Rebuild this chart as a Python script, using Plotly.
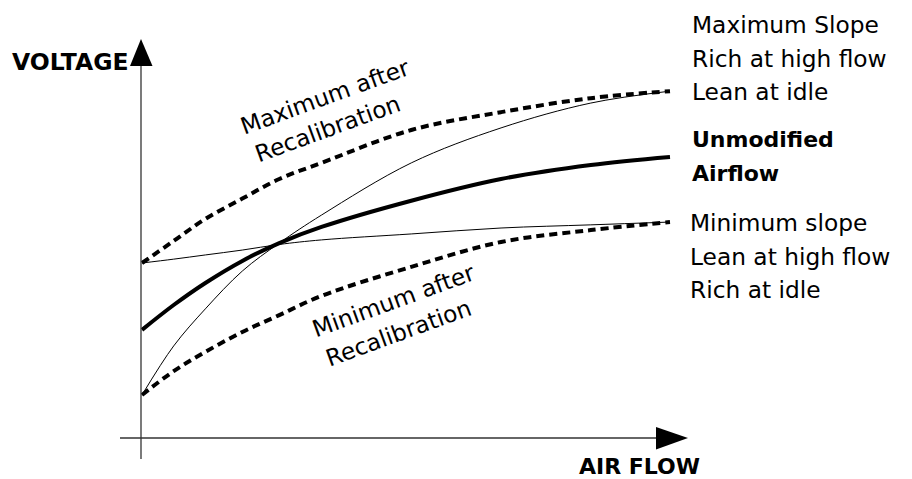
import plotly.graph_objects as go

# ---- data (arbitrary units) ----
airflow = [0, 0.6, 1.2, 1.9, 2.6, 3.4, 5.1, 6.8, 8.5, 10]
max_recal = [5.0, 5.63, 6.26, 6.84, 7.4, 7.86, 8.8, 9.31, 9.71, 9.91]
min_recal = [1.23, 1.91, 2.46, 3.03, 3.51, 4.06, 4.89, 5.6, 5.94, 6.17]
unmodified = [3.09, 3.8, 4.43, 5.06, 5.57, 6.03, 6.78, 7.4, 7.8, 8.03]
max_slope = [1.23, 2.63, 3.69, 4.77, 5.57, 6.37, 7.86, 8.86, 9.57, 9.91]
min_slope = [5.0, 5.11, 5.23, 5.37, 5.53, 5.66, 5.83, 6.0, 6.09, 6.17]

right_labels_top = ["Maximum Slope", "Rich at high flow", "Lean at idle"]
right_labels_mid = ["Unmodified", "Airflow"]
right_labels_low = ["Minimum slope", "Lean at high flow", "Rich at idle"]

W, H = 912, 479
SX, SY = 52.8, 35.0
OX, OY = 142, 438


def X(px):
    return (px - OX) / SX


def Y(py):
    return (OY - py) / SY


FONT = "DejaVu Sans"
REG = 23.3
BOLD = 22

fig = go.Figure()

dash = "8px,5px"
fig.add_trace(go.Scatter(x=airflow, y=max_recal, mode="lines",
                         line=dict(color="black", width=4, dash=dash, shape="spline")))
fig.add_trace(go.Scatter(x=airflow, y=min_recal, mode="lines",
                         line=dict(color="black", width=4, dash=dash, shape="spline")))
fig.add_trace(go.Scatter(x=airflow, y=unmodified, mode="lines",
                         line=dict(color="black", width=4, shape="spline")))
fig.add_trace(go.Scatter(x=airflow, y=max_slope, mode="lines",
                         line=dict(color="black", width=1, shape="spline")))
fig.add_trace(go.Scatter(x=airflow, y=min_slope, mode="lines",
                         line=dict(color="black", width=1, shape="spline")))

shapes = [
    dict(type="line", x0=X(141), y0=Y(459), x1=X(141), y1=Y(62),
         line=dict(color="#333", width=1.3)),
    dict(type="path", path=f"M {X(141)},{Y(39)} L {X(130)},{Y(66)} L {X(152.5)},{Y(66)} Z",
         fillcolor="black", line=dict(color="black", width=0)),
    dict(type="line", x0=X(120), y0=Y(438), x1=X(660), y1=Y(438),
         line=dict(color="#333", width=1.3)),
    dict(type="path", path=f"M {X(688)},{Y(438)} L {X(656)},{Y(427)} L {X(656)},{Y(449.5)} Z",
         fillcolor="black", line=dict(color="black", width=0)),
]

ann = []


def txt(text, px, py, size, bold=False, xanchor="left", angle=0):
    t = f"<b>{text}</b>" if bold else text
    ann.append(dict(text=t, x=X(px), y=Y(py), xref="x", yref="y", showarrow=False,
                    xanchor=xanchor, yanchor="middle", textangle=angle,
                    font=dict(family=FONT, size=size, color="black")))


txt("VOLTAGE", 10, 62, 23.5, bold=True)
txt("AIR FLOW", 577, 466, BOLD, bold=True)

for lab, py in zip(right_labels_top, [24.5, 58, 91.5]):
    txt(lab, 690, py, REG)
for lab, py in zip(right_labels_mid, [139, 173]):
    txt(lab, 690, py, BOLD, bold=True)
for lab, py in zip(right_labels_low, [222.5, 256, 289.5]):
    txt(lab, 688, py, REG)

# rotated labels (left-aligned lines)
txt("Maximum after", 324.5, 96.4, REG, xanchor="center", angle=-20)
txt("Recalibration", 327, 128, REG, xanchor="center", angle=-20)
txt("Minimum after", 393, 300.5, REG, xanchor="center", angle=-20)
txt("Recalibration", 398.5, 332.5, REG, xanchor="center", angle=-20)

fig.update_layout(
    width=W, height=H, autosize=False,
    margin=dict(l=0, r=0, t=0, b=0),
    paper_bgcolor="white", plot_bgcolor="white",
    showlegend=False,
    xaxis=dict(visible=False, range=[X(0), X(W)], fixedrange=True),
    yaxis=dict(visible=False, range=[Y(H), Y(0)], fixedrange=True),
    shapes=shapes, annotations=ann,
)

fig.write_html("out.html", config={"displayModeBar": False},
               post_script="document.body.style.margin='0';document.body.style.overflow='hidden';")
